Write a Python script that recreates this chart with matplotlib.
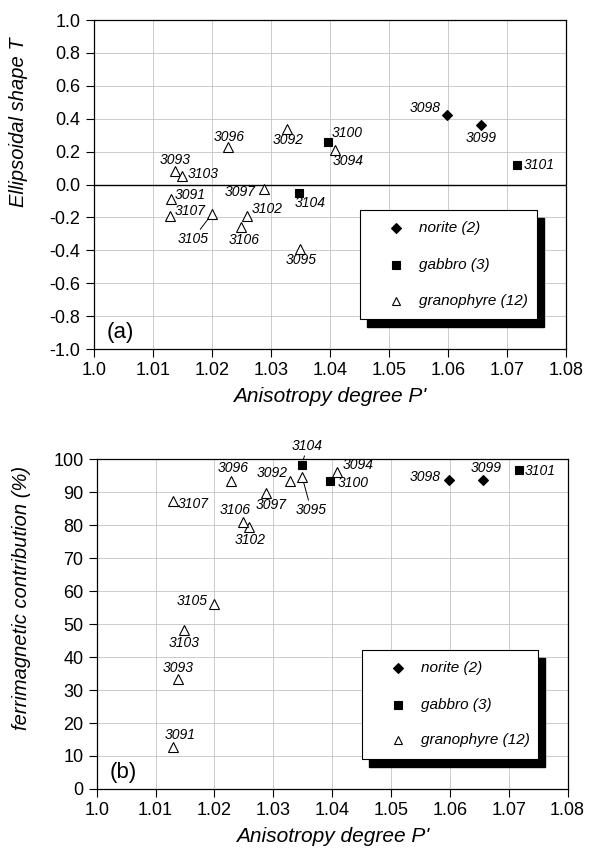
"""
AMS fabric plots: shape parameter T and ferrimagnetic contribution vs anisotropy degree P'.
"""
import numpy as np
import matplotlib
matplotlib.use('Agg')
import matplotlib.pyplot as plt
from matplotlib.patches import Rectangle

plt.rcParams['font.family'] = ['Liberation Sans', 'DejaVu Sans']

# --- data ---
samples = ['3091', '3092', '3093', '3094', '3095', '3096', '3097', '3098', '3099',
           '3100', '3101', '3102', '3103', '3104', '3105', '3106', '3107']
rock = ['granophyre', 'granophyre', 'granophyre', 'granophyre', 'granophyre',
        'granophyre', 'granophyre', 'norite', 'norite', 'gabbro', 'gabbro',
        'granophyre', 'granophyre', 'gabbro', 'granophyre', 'granophyre', 'granophyre']
p_prime = [1.0130, 1.0328, 1.0138, 1.0408, 1.0349, 1.0228, 1.0288, 1.0598, 1.0657,
           1.0397, 1.0718, 1.0259, 1.0149, 1.0348, 1.0200, 1.0249, 1.0129]
shape_t = [-0.09, 0.34, 0.08, 0.21, -0.39, 0.23, -0.03, 0.42, 0.36,
           0.26, 0.12, -0.19, 0.05, -0.05, -0.18, -0.26, -0.19]
ferri = [12.7, 93.3, 33.3, 96.1, 94.6, 93.3, 89.8, 93.7, 93.7,
         93.3, 96.6, 79.5, 48.1, 98.2, 56.2, 81.0, 87.3]

groups = ['norite', 'gabbro', 'granophyre']
group_counts = [rock.count(g) for g in groups]

x_ticks = [1.0, 1.01, 1.02, 1.03, 1.04, 1.05, 1.06, 1.07, 1.08]
x_ticklabels = ['1.0', '1.01', '1.02', '1.03', '1.04', '1.05', '1.06', '1.07', '1.08']
t_ticks = [1.0, 0.8, 0.6, 0.4, 0.2, 0.0, -0.2, -0.4, -0.6, -0.8, -1.0]
f_ticks = [0, 10, 20, 30, 40, 50, 60, 70, 80, 90, 100]

# marker styles per rock type
STYLE = {
    'norite':     dict(marker='D', ms=5.2, mfc='black', mec='black', mew=0.8),
    'gabbro':     dict(marker='s', ms=5.5, mfc='black', mec='black', mew=0.8),
    'granophyre': dict(marker='^', ms=6.5, mfc='white', mec='black', mew=0.8),
}

# label offsets in pixels (dx, dy) from the point to the label centre; True = leader line
LAB_A = {
    '3091': (20, 4), '3092': (1, -11), '3093': (0, 11), '3094': (14, -11),
    '3095': (1, -11), '3096': (1, 10), '3097': (-24, -3), '3098': (-21, 7),
    '3099': (0, -13), '3100': (19, 9), '3101': (22, 0), '3102': (21, 7),
    '3103': (21, 2), '3104': (11, -10), '3105': (-19, -25, True), '3106': (3, -13),
    '3107': (20, 5),
}
LAB_B = {
    '3091': (7, 12), '3092': (-18, 8), '3093': (0, 11), '3094': (21, 7),
    '3095': (9, -33, True), '3096': (2, 13), '3097': (5, -12), '3098': (-24, 3),
    '3099': (3, 12), '3100': (23, -2), '3101': (21, -1), '3102': (1, -13),
    '3103': (0, -13), '3104': (6, 19, True), '3105': (-22, 3), '3106': (-8, 12),
    '3107': (20, -3),
}

fig = plt.figure(figsize=(5.9, 8.5), dpi=100)
fig.patch.set_facecolor('white')
ax1 = fig.add_axes([0.159, 0.5894, 0.800, 0.387])
ax2 = fig.add_axes([0.164, 0.0718, 0.798, 0.388])


def scatter_panel(ax, yvals, offsets):
    for g in groups:
        xs = [p for p, r in zip(p_prime, rock) if r == g]
        ys = [v for v, r in zip(yvals, rock) if r == g]
        ax.plot(xs, ys, ls='none', zorder=4, clip_on=False, **STYLE[g])
    for s, x, y in zip(samples, p_prime, yvals):
        off = offsets[s]
        kw = {}
        if len(off) > 2:
            kw['arrowprops'] = dict(arrowstyle='-', lw=0.7, color='black',
                                    shrinkA=0, shrinkB=4)
        ax.annotate(s, (x, y), xytext=off[:2], textcoords='offset pixels',
                    ha='center', va='center', fontsize=10, style='italic',
                    zorder=4, annotation_clip=False, **kw)


def draw_key(ax):
    x0, y0, x1, y1 = 0.564, 0.090, 0.938, 0.422
    ax.add_patch(Rectangle((x0 + 0.015, y0 - 0.024), x1 - x0, y1 - y0,
                           transform=ax.transAxes, fc='black', ec='black', zorder=5))
    ax.add_patch(Rectangle((x0, y0), x1 - x0, y1 - y0, transform=ax.transAxes,
                           fc='white', ec='black', lw=0.8, zorder=6))
    for g, n, yy in zip(groups, group_counts, [0.367, 0.256, 0.147]):
        st = dict(STYLE[g])
        st['ms'] = st['ms'] * 0.95
        ax.plot([0.640], [yy], transform=ax.transAxes, zorder=7, clip_on=False, **st)
        ax.text(0.688, yy, f'{g} ({n})', transform=ax.transAxes, fontsize=11,
                style='italic', va='center', ha='left', zorder=7)


def style_axes(ax, yticks, yticklabels, ylim, ylabel, ylab_y, tag):
    ax.set_xlim(1.0, 1.08)
    ax.set_ylim(*ylim)
    ax.set_xticks(x_ticks)
    ax.set_xticklabels(x_ticklabels)
    ax.set_yticks(yticks)
    ax.set_yticklabels(yticklabels)
    ax.tick_params(direction='out', length=5.5, width=0.8, labelsize=13, pad=4)
    ax.grid(True, color='#c4c4c4', linewidth=0.6)
    ax.set_axisbelow(True)
    for sp in ax.spines.values():
        sp.set_edgecolor('black')
        sp.set_linewidth(0.9)
    ax.set_xlabel("Anisotropy degree P'", fontsize=15, style='italic')
    ax.xaxis.set_label_coords(0.5, -0.115)
    ax.set_ylabel(ylabel, fontsize=14.5, style='italic')
    ax.yaxis.set_label_coords(-0.14, ylab_y)
    ax.text(0.057, 0.05, tag, transform=ax.transAxes, fontsize=16,
            ha='center', va='center')


# (a) shape parameter
style_axes(ax1, t_ticks, [f'{t:.1f}' for t in t_ticks], (-1.0, 1.0),
           'Ellipsoidal shape T', 0.69, '(a)')
ax1.axhline(0, color='black', lw=1.0, zorder=2)
scatter_panel(ax1, shape_t, LAB_A)
draw_key(ax1)

# (b) ferrimagnetic contribution
style_axes(ax2, f_ticks, [str(t) for t in f_ticks], (0, 100),
           'ferrimagnetic contribution (%)', 0.58, '(b)')
scatter_panel(ax2, ferri, LAB_B)
draw_key(ax2)

plt.savefig('out.png', dpi=100, facecolor='white')
print('saved out.png')
